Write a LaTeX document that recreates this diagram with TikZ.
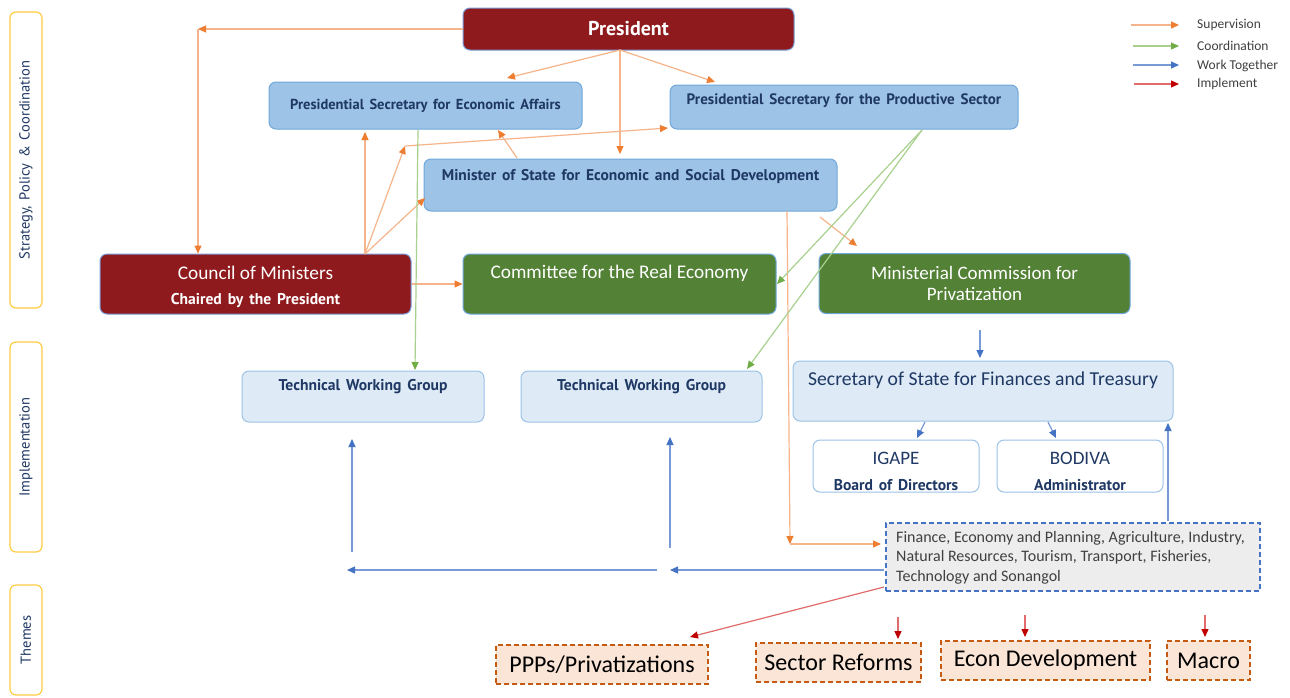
\documentclass[tikz,border=0pt]{standalone}
\usepackage{fontspec}
\setmainfont{Carlito}
\newfontfamily\tah{PT Sans}
\newfontfamily\tahw[WordSpace=1.5]{PT Sans}
\usetikzlibrary{arrows.meta}
\definecolor{dred}{HTML}{8F1A1D}
\definecolor{dgreen}{HTML}{538135}
\definecolor{lblue}{HTML}{9DC3E6}
\definecolor{lblueb}{HTML}{6FA8DC}
\definecolor{vlblue}{HTML}{DEEBF7}
\definecolor{navy}{HTML}{1F3864}
\definecolor{finfill}{HTML}{EDEDED}
\definecolor{wblue}{HTML}{4472C4}
\definecolor{wbluel}{HTML}{7A9AD6}
\definecolor{thfill}{HTML}{FBE5D6}
\definecolor{thbord}{HTML}{C55A11}
\definecolor{yel}{HTML}{FFCC44}
\definecolor{supl}{HTML}{F6B48A}
\definecolor{supt}{HTML}{ED7D31}
\definecolor{cool}{HTML}{A9D18E}
\definecolor{coot}{HTML}{70AD47}
\definecolor{impl}{HTML}{E26B6B}
\definecolor{impt}{HTML}{C00000}
\definecolor{leg}{HTML}{404040}
\tikzset{
  box/.style={rounded corners=7pt, line width=1pt, inner sep=2pt, align=center},
  redbox/.style={box, fill=dred, draw=wbluel, text=white},
  greenbox/.style={box, fill=dgreen, draw=lblueb, text=white},
  bluebox/.style={box, fill=lblue, draw=lblueb, text=navy},
  palebox/.style={box, fill=vlblue, draw=lblue, text=navy},
  whitebox/.style={box, fill=white, draw=lblue, text=navy},
  sidebox/.style={box, rounded corners=6pt, fill=white, draw=yel, line width=1.2pt, text=navy, minimum width=32pt},
  sidetxt/.style={rotate=90, text=navy, font=\tah\fontsize{14.5}{17}\selectfont},
  finbox/.style={draw=wblue, fill=finfill, dashed, dash pattern=on 5pt off 3pt, line width=1.6pt},
  fintxt/.style={text=leg, align=left, anchor=west, inner sep=0pt, font=\fontsize{16}{19.5}\selectfont},
  thbox/.style={draw=thbord, fill=thfill, dashed, dash pattern=on 5pt off 3pt, line width=1.6pt, text=black, font=\fontsize{24}{27}\selectfont},
  small/.style={text=navy, font=\tahw\bfseries\fontsize{15.6}{18}\selectfont, inner sep=0pt},
  big/.style={font=\fontsize{19.3}{22}\selectfont, inner sep=0pt},
  tip/.style={-{Triangle[length=8pt,width=7pt,color=#1]}},
  sup/.style={draw=supl, line width=1.2pt, tip=supt},
  coo/.style={draw=cool, line width=1.2pt, tip=coot},
  wrk/.style={draw=wbluel, line width=1.2pt, tip=wblue},
  imp/.style={draw=impl, line width=1.2pt, tip=impt},
  legtxt/.style={anchor=west, text=leg, font=\fontsize{13.5}{16}\selectfont, inner sep=0pt}
}
\begin{document}
\begin{tikzpicture}[x=1pt,y=-1pt]
\useasboundingbox[fill=white] (0,0) rectangle (1290,697);

% side labels
\node[sidebox, minimum height=296pt] (s1) at (26,160) {};
\node[sidetxt] (s1t) at (s1.center) {Strategy, Policy \& Coordination};
\node[sidebox, minimum height=210pt] (s2) at (26,447) {};
\node[sidetxt] (s2t) at (s2.center) {Implementation};
\node[sidebox, minimum height=110pt] (s3) at (26,640) {};
\node[sidetxt] (s3t) at (s3.center) {Themes};

% boxes
\node[redbox, minimum width=331pt, minimum height=42pt, font=\tah\bfseries\fontsize{20}{23}\selectfont] (pres) at (628.5,29) {President};
\node[bluebox, minimum width=313pt, minimum height=47pt, font=\tah\bfseries\fontsize{14.5}{17}\selectfont] (psea) at (425.5,105.5) {Presidential Secretary for Economic Affairs};
\node[bluebox, minimum width=348pt, minimum height=44pt, text depth=15pt, font=\tah\bfseries\fontsize{15.1}{17}\selectfont] (psp) at (844,107) {Presidential Secretary for the Productive Sector};
\node[bluebox, minimum width=413pt, minimum height=52pt, text depth=21pt, font=\tahw\bfseries\fontsize{15.5}{18}\selectfont] (mos) at (630.5,185) {Minister of State for Economic and Social Development};
\node[redbox, minimum width=311pt, minimum height=60pt] (com) at (255.5,284) {};
\node[big, text=white] (comt) at (255.5,273) {Council of Ministers};
\node[small, text=white] (comt2) at (255.5,301) {Chaired by the President};
\node[greenbox, minimum width=313pt, minimum height=60pt] (cre) at (619.5,284) {};
\node[big, text=white] (cret) at (619.5,273) {Committee for the Real Economy};
\node[greenbox, minimum width=311pt, minimum height=60pt, font=\fontsize{19}{21}\selectfont] (mcp) at (974.5,283.5) {Ministerial Commission for\\Privatization};
\node[palebox, minimum width=242pt, minimum height=51pt] (twg1) at (363,396.5) {};
\node[small] (twg1t) at (363,387) {Technical Working Group};
\node[palebox, minimum width=241pt, minimum height=51pt] (twg2) at (641.5,396.5) {};
\node[small] (twg2t) at (641.5,387) {Technical Working Group};
\node[palebox, minimum width=380pt, minimum height=60pt] (sst) at (983,391) {};
\node[big, text=navy, font=\fontsize{19.7}{22}\selectfont] (sstt) at (983,380) {Secretary of State for Finances and Treasury};
\node[whitebox, minimum width=166pt, minimum height=52pt] (igape) at (896,466) {};
\node[big, text=navy, font=\fontsize{19}{22}\selectfont] (igapet) at (896,458) {IGAPE};
\node[small] (igapet2) at (896,485) {Board of Directors};
\node[whitebox, minimum width=166pt, minimum height=52pt] (bod) at (1080,466) {};
\node[big, text=navy, font=\fontsize{19}{22}\selectfont] (bodt) at (1080,458) {BODIVA};
\node[small] (bodt2) at (1080,485) {Administrator};
\node[finbox, minimum width=374pt, minimum height=68pt] (fin) at (1073,557) {};
\node[fintxt] (fint) at (896,557.5) {Finance, Economy and Planning, Agriculture, Industry,\\Natural Resources, Tourism, Transport, Fisheries,\\Technology and Sonangol};
\node[thbox, minimum width=212pt, minimum height=39pt] (ppp) at (602,664.5) {PPPs/Privatizations};
\node[thbox, minimum width=165pt, minimum height=39pt] (sr) at (838.5,662.5) {Sector Reforms};
\node[thbox, minimum width=209pt, minimum height=39pt] (ed) at (1045.5,660.5) {Econ Development};
\node[thbox, minimum width=83pt, minimum height=39pt] (mac) at (1208.5,660.5) {Macro};

% coordinates
\coordinate (c1) at (198,29);
\coordinate (p0) at (620,50);
\coordinate (p1) at (507,78);
\coordinate (p2) at (715,82);
\coordinate (p3) at (620,154);
\coordinate (cm) at (365,254);
\coordinate (k0) at (365,132);
\coordinate (k1) at (405,146);
\coordinate (k2) at (668,128);
\coordinate (k3) at (425,198);
\coordinate (m0) at (517,158);
\coordinate (m1) at (498,130);
\coordinate (m2) at (787,211);
\coordinate (c2) at (790,544);
\coordinate (m3) at (881,544);
\coordinate (m4) at (820,217);
\coordinate (m5) at (857,246);
\coordinate (g0) at (922,130);
\coordinate (g1) at (777,284);
\coordinate (g2) at (747,369);
\coordinate (g3) at (418,130);
\coordinate (g4) at (415,370);
\coordinate (b0) at (980,330);
\coordinate (b1) at (980,358);
\coordinate (b2) at (925,422);
\coordinate (b3) at (917,438);
\coordinate (b4) at (1048,422);
\coordinate (b5) at (1056,438);
\coordinate (b6) at (1168,521);
\coordinate (b7) at (1168,423);
\coordinate (b8) at (884,570);
\coordinate (b9) at (670,570);
\coordinate (b10) at (657,570);
\coordinate (b11) at (347,570);
\coordinate (b12) at (352,552);
\coordinate (b13) at (352,439);
\coordinate (b14) at (670,548);
\coordinate (b15) at (670,437);
\coordinate (r0) at (884,587);
\coordinate (r1) at (690,637);
\coordinate (r2) at (898,617);
\coordinate (r3) at (898,639);
\coordinate (r4) at (1025,615);
\coordinate (r5) at (1025,637);
\coordinate (r6) at (1205,615);
\coordinate (r7) at (1205,637);

% supervision
\draw[sup] (pres.west) -- (c1);
\draw[sup] (c1) -- (c1 |- com.north);
\draw[sup] (p0) -- (p1);
\draw[sup] (p0) -- (p2);
\draw[sup] (p0) -- (p3);
\draw[sup] (cm) -- (k0);
\draw[sup] (cm) -- (k1);
\draw[sup] (k1) -- (k2);
\draw[sup] (cm) -- (k3);
\draw[sup] (m0) -- (m1);
\draw[sup] (com.east) -- (cre.west);
\draw[sup] (m2) -- (c2);
\draw[sup] (c2) -- (m3);
\draw[sup] (m4) -- (m5);
% coordination
\draw[coo] (g0) -- (g1);
\draw[coo] (g0) -- (g2);
\draw[coo] (g3) -- (g4);
% work together
\draw[wrk] (b0) -- (b1);
\draw[wrk] (b2) -- (b3);
\draw[wrk] (b4) -- (b5);
\draw[wrk] (b6) -- (b7);
\draw[wrk] (b8) -- (b9);
\draw[wrk] (b10) -- (b11);
\draw[wrk] (b12) -- (b13);
\draw[wrk] (b14) -- (b15);
% implement
\draw[imp] (r0) -- (r1);
\draw[imp] (r2) -- (r3);
\draw[imp] (r4) -- (r5);
\draw[imp] (r6) -- (r7);

% legend
\coordinate (l1a) at (1131,25); \coordinate (l1b) at (1179,25);
\coordinate (l2a) at (1133,46); \coordinate (l2b) at (1179,46);
\coordinate (l3a) at (1133,65); \coordinate (l3b) at (1179,65);
\coordinate (l4a) at (1134,84); \coordinate (l4b) at (1179,84);
\draw[sup] (l1a) -- (l1b);
\draw[coo] (l2a) -- (l2b);
\draw[wrk] (l3a) -- (l3b);
\draw[imp] (l4a) -- (l4b);
\node[legtxt] (lt1) at (1197,25) {Supervision};
\node[legtxt] (lt2) at (1197,46) {Coordination};
\node[legtxt] (lt3) at (1197,66) {Work Together};
\node[legtxt] (lt4) at (1197,84) {Implement};
\end{tikzpicture}
\end{document}
